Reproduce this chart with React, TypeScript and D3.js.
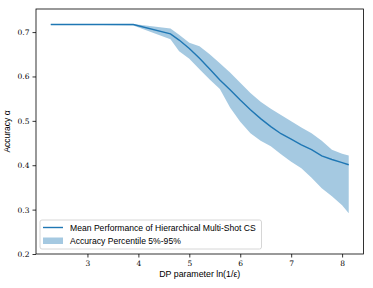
import React, { useEffect, useRef } from "react";
import * as d3 from "d3";

// DP parameter ln(1/eps)
const dpParam = [2.28, 3.3, 3.9, 4.63, 4.8, 5.0, 5.2, 5.4, 5.6, 5.8, 6.0, 6.2, 6.4, 6.6, 6.8, 7.0, 7.2, 7.4, 7.6, 7.8, 8.0, 8.13];
const meanAcc = [0.717, 0.717, 0.717, 0.696, 0.682, 0.663, 0.641, 0.617, 0.592, 0.57, 0.547, 0.525, 0.505, 0.487, 0.471, 0.459, 0.446, 0.435, 0.421, 0.413, 0.406, 0.401];
const upperAcc = [0.718, 0.718, 0.718, 0.708, 0.694, 0.676, 0.668, 0.65, 0.63, 0.609, 0.586, 0.563, 0.543, 0.527, 0.513, 0.499, 0.485, 0.472, 0.455, 0.435, 0.426, 0.422];
const lowerAcc = [0.716, 0.716, 0.715, 0.684, 0.657, 0.64, 0.616, 0.593, 0.572, 0.53, 0.498, 0.472, 0.455, 0.443, 0.425, 0.408, 0.393, 0.372, 0.348, 0.33, 0.31, 0.292];

const xTicks = [3, 4, 5, 6, 7, 8];
const yTicks = [0.2, 0.3, 0.4, 0.5, 0.6, 0.7];
const legendLabels = ["Mean Performance of Hierarchical Multi-Shot CS", "Accuracy Percentile 5%-95%"];

const BLUE = "#1f77b4";

const App = () => {
  const svgRef = useRef(null);

  useEffect(() => {
    const root = d3.select(svgRef.current);
    root.selectAll("*").remove();

    const W = 373;
    const H = 288;
    const margin = { top: 9, right: 9.5, bottom: 34, left: 36 };
    const width = W - margin.left - margin.right;
    const height = H - margin.top - margin.bottom;

    const svg = root
      .append("g")
      .attr("transform", `translate(${margin.left},${margin.top})`);

    const xScale = d3.scaleLinear().domain([1.99, 8.42]).range([0, width]);
    const yScale = d3.scaleLinear().domain([0.2, 0.752]).range([height, 0]);

    const data = dpParam.map((x, i) => ({
      x,
      mean: meanAcc[i],
      hi: upperAcc[i],
      lo: lowerAcc[i],
    }));

    // percentile band
    const area = d3
      .area()
      .x((d) => xScale(d.x))
      .y0((d) => yScale(d.lo))
      .y1((d) => yScale(d.hi));
    svg
      .append("path")
      .datum(data)
      .attr("d", area)
      .attr("fill", BLUE)
      .attr("fill-opacity", 0.4);

    // mean line
    const line = d3
      .line()
      .x((d) => xScale(d.x))
      .y((d) => yScale(d.mean));
    svg
      .append("path")
      .datum(data)
      .attr("d", line)
      .attr("fill", "none")
      .attr("stroke", BLUE)
      .attr("stroke-width", 1.4);

    // axes
    const xAxis = svg
      .append("g")
      .attr("transform", `translate(0,${height})`)
      .call(d3.axisBottom(xScale).tickValues(xTicks).tickSize(3.5).tickPadding(3).tickFormat(d3.format("d")));
    const yAxis = svg
      .append("g")
      .call(d3.axisLeft(yScale).tickValues(yTicks).tickSize(3.5).tickPadding(3).tickFormat(d3.format(".1f")));

    [xAxis, yAxis].forEach((ax) => {
      ax.select(".domain").remove();
      ax.selectAll("line").attr("stroke", "#000").attr("stroke-width", 0.8);
      ax.selectAll("text")
        .attr("fill", "#000")
        .style("font-family", "'DejaVu Serif', serif")
        .style("font-size", "7.5px");
    });

    // frame
    svg
      .append("rect")
      .attr("width", width)
      .attr("height", height)
      .attr("fill", "none")
      .attr("stroke", "#000")
      .attr("stroke-width", 0.8);

    // axis labels
    svg
      .append("text")
      .attr("x", width / 2)
      .attr("y", height + 23)
      .style("text-anchor", "middle")
      .style("font-family", "'Liberation Sans', sans-serif")
      .style("font-size", "8.8px")
      .text("DP parameter ln(1/ε)");

    svg
      .append("text")
      .attr("x", -height / 2)
      .attr("y", -margin.left + 10)
      .attr("transform", "rotate(-90)")
      .style("text-anchor", "middle")
      .style("font-family", "'Liberation Sans', sans-serif")
      .style("font-size", "8.5px")
      .text("Accuracy α");

    // legend
    const lg = svg.append("g").attr("transform", `translate(4,${height - 34})`);
    lg.append("rect")
      .attr("width", 221.5)
      .attr("height", 29)
      .attr("rx", 2)
      .attr("fill", "#fff")
      .attr("fill-opacity", 0.8)
      .attr("stroke", "#ccc")
      .attr("stroke-width", 0.8);
    lg.append("line")
      .attr("x1", 3)
      .attr("x2", 23)
      .attr("y1", 7.5)
      .attr("y2", 7.5)
      .attr("stroke", BLUE)
      .attr("stroke-width", 1.4);
    lg.append("rect")
      .attr("x", 3)
      .attr("y", 17.5)
      .attr("width", 20)
      .attr("height", 6.5)
      .attr("fill", BLUE)
      .attr("fill-opacity", 0.4);
    lg.selectAll("text.lab")
      .data(legendLabels)
      .enter()
      .append("text")
      .attr("class", "lab")
      .attr("x", 30)
      .attr("y", (d, i) => 10.5 + i * 13.4)
      .style("font-family", "'Liberation Sans', sans-serif")
      .style("font-size", "8.6px")
      .text((d) => d);
  }, []);

  return (
    <svg
      ref={svgRef}
      width={373}
      height={288}
      style={{ position: "absolute", left: 0, top: 0, background: "#fff" }}
    ></svg>
  );
};

export default App;
